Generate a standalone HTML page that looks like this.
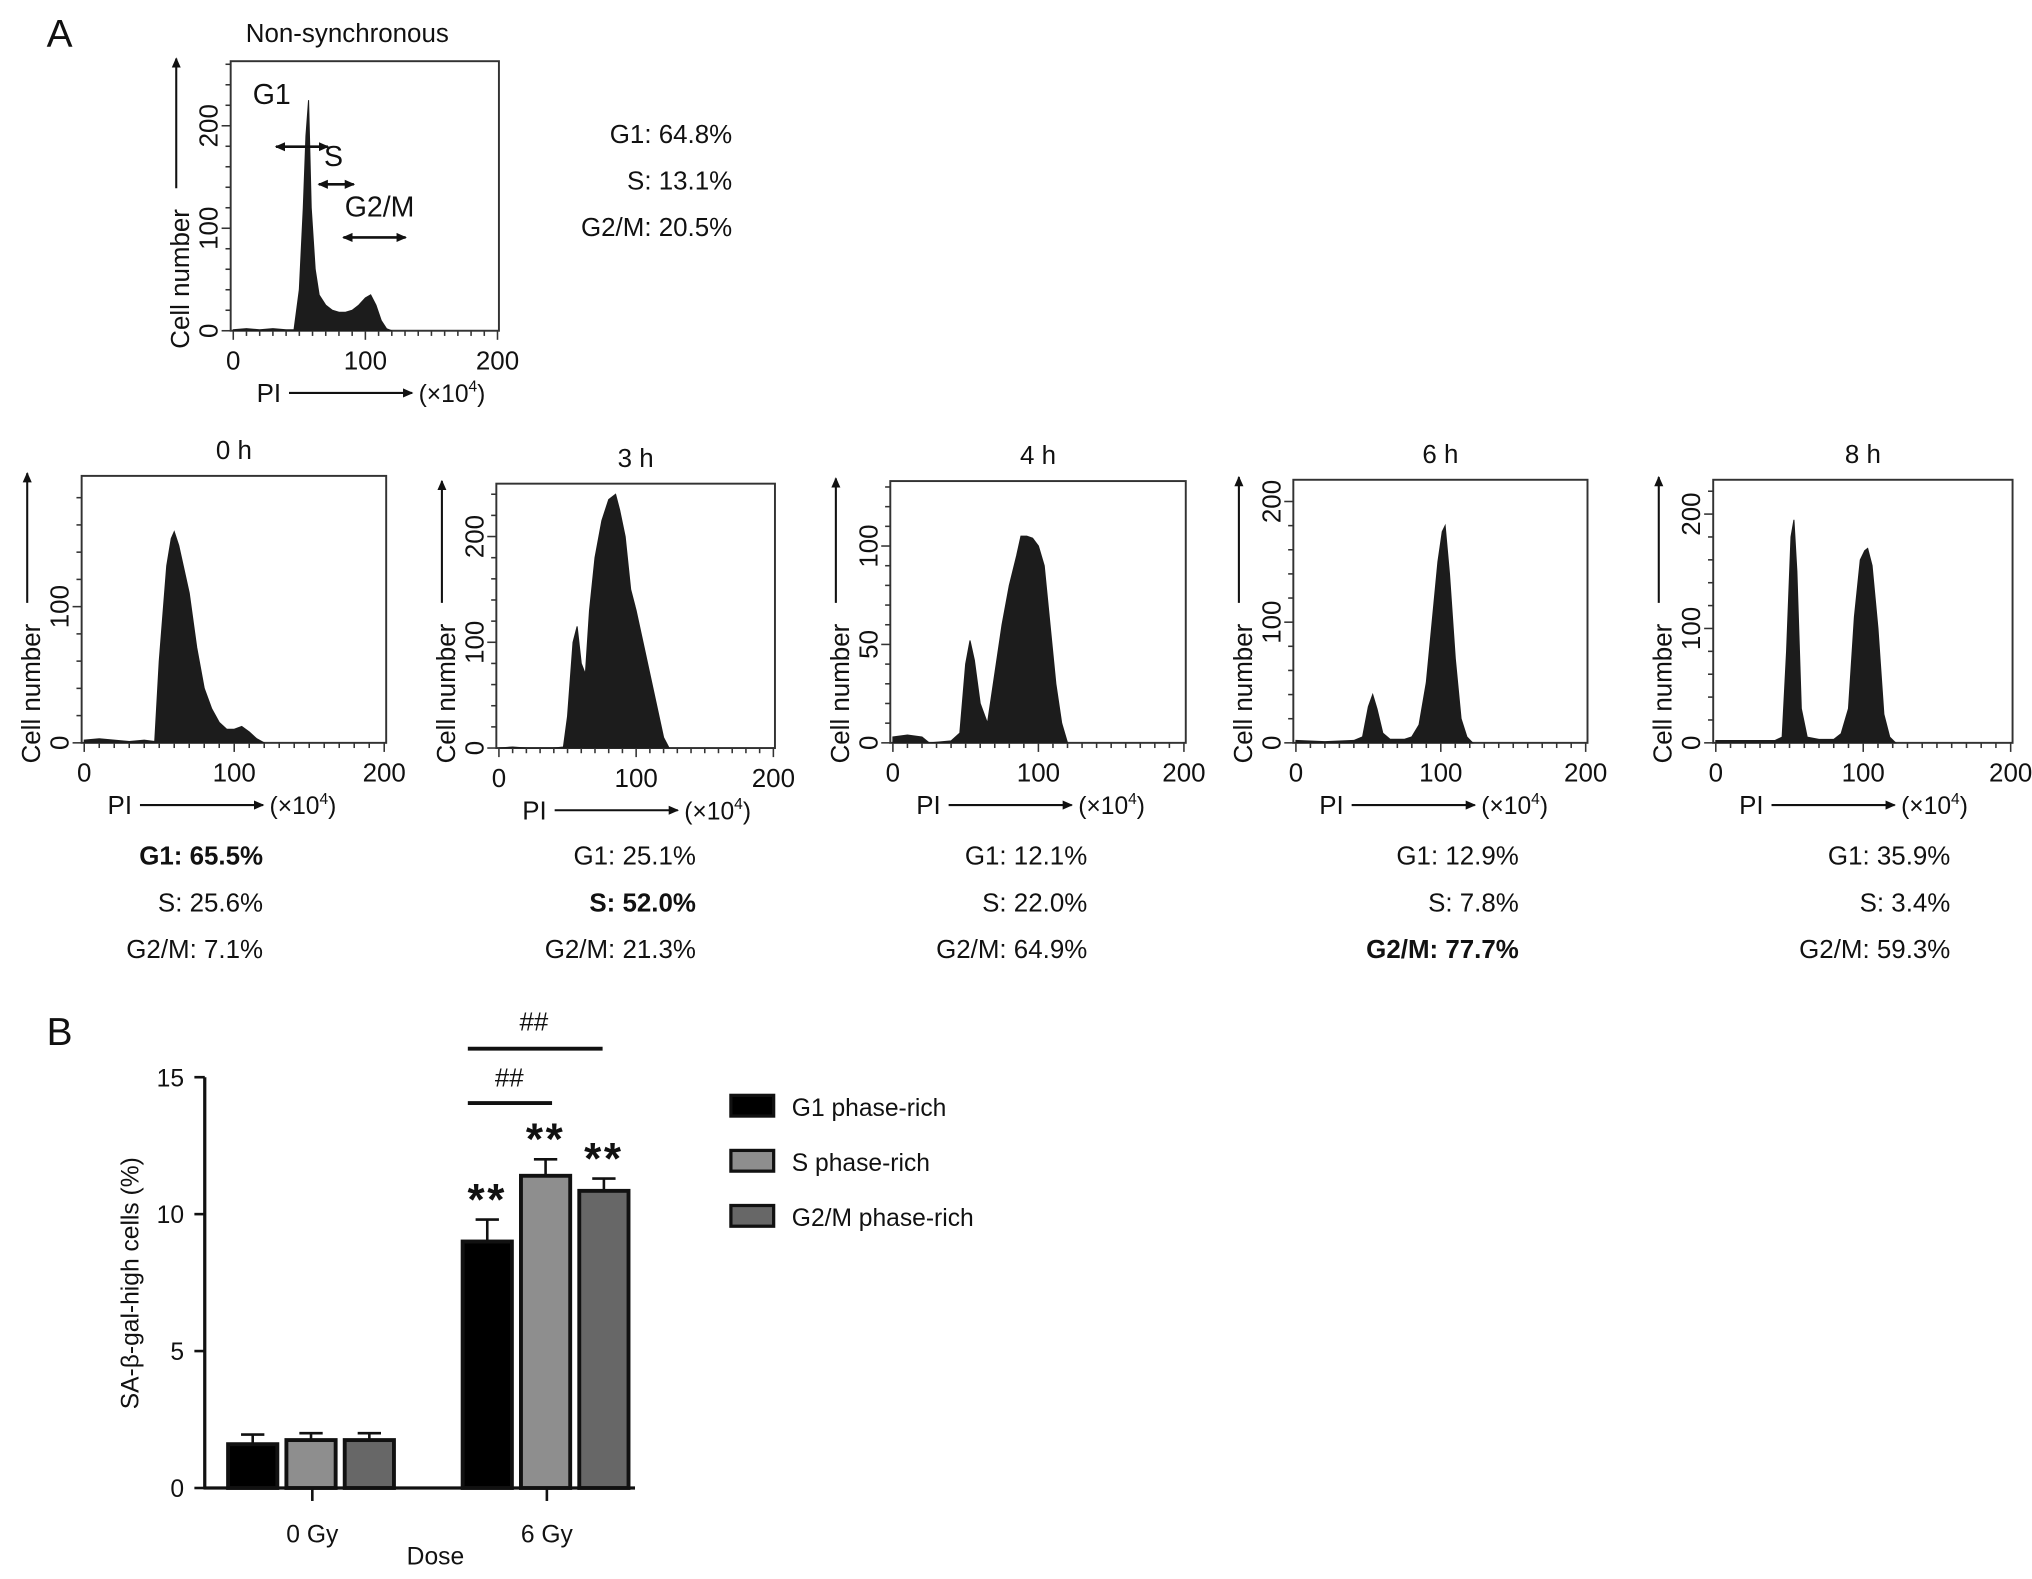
<!DOCTYPE html>
<html><head><meta charset="utf-8"><style>
html,body{margin:0;padding:0;background:#fff}
svg{display:block}
text{font-family:"Liberation Sans",sans-serif;fill:#111}
</style></head><body>
<svg id="fig" width="2032" height="1579" viewBox="0 0 1568 1218" xmlns="http://www.w3.org/2000/svg">
<defs><marker id="ah" markerWidth="8" markerHeight="8" refX="7" refY="4" orient="auto" markerUnits="userSpaceOnUse"><path d="M0,0.5 L8,4 L0,7.5 z" fill="#111"/></marker>
<marker id="ah2" markerWidth="8" markerHeight="8" refX="1" refY="4" orient="auto" markerUnits="userSpaceOnUse"><path d="M8,0.5 L0,4 L8,7.5 z" fill="#111"/></marker></defs>
<text x="36" y="36" font-size="30">A</text>
<text x="36" y="806" font-size="30">B</text>
<g id="hists"></g>
<g id="bars"></g>
</svg>
<script>
// ---------- Panel A histogram data ----------
const nsPI = [0,10,20,30,40,46,50,53,55,57,59,62,65,70,75,80,85,90,95,100,104,108,112,116,120];
const nsCount = [1,2,1,2,1,1,40,120,190,225,120,60,35,25,20,18,18,20,25,32,35,25,10,2,0];
const h0PI = [0,10,20,30,40,47,50,55,58,60,63,66,70,75,80,85,90,95,100,105,110,115,120];
const h0Count = [2,3,2,1,2,1,60,130,150,155,145,130,110,70,40,25,15,10,10,12,8,3,0];
const h3PI = [0,10,20,30,40,47,50,54,57,60,63,66,70,75,80,85,88,92,96,100,105,110,115,120,124];
const h3Count = [0,1,0,0,0,1,30,100,115,80,70,130,180,215,235,240,225,200,150,130,100,70,40,10,0];
const h4PI = [0,10,20,25,40,46,50,53,56,60,65,70,75,80,85,88,92,96,100,104,108,112,116,120];
const h4Count = [3,4,3,0,1,5,40,52,42,20,10,35,60,80,95,105,105,104,100,90,60,30,10,0];
const h6PI = [0,20,40,46,50,53,56,60,65,70,75,80,85,90,94,98,101,103,106,110,114,118,122];
const h6Count = [2,1,2,5,30,40,28,8,3,3,3,5,15,50,100,150,175,180,140,70,20,5,0];
const h8PI = [0,20,40,45,48,51,53,55,58,62,70,80,85,90,94,98,101,103,106,110,114,118,122];
const h8Count = [2,2,2,5,80,180,195,150,30,5,3,3,8,30,110,160,168,170,155,100,25,5,0];
const panelTitles = ["0 h","3 h","4 h","6 h","8 h"];
const ns1 = ["G1: 64.8%","S: 13.1%","G2/M: 20.5%"];
const stat0 = ["G1: 65.5%","S: 25.6%","G2/M: 7.1%"];
const stat3 = ["G1: 25.1%","S: 52.0%","G2/M: 21.3%"];
const stat4 = ["G1: 12.1%","S: 22.0%","G2/M: 64.9%"];
const stat6 = ["G1: 12.9%","S: 7.8%","G2/M: 77.7%"];
const stat8 = ["G1: 35.9%","S: 3.4%","G2/M: 59.3%"];
const xTicks = [0,100,200];
// ---------- Panel B bar data ----------
const doses = ["0 Gy","6 Gy"];
const seriesNames = ["G1 phase-rich","S phase-rich","G2/M phase-rich"];
const g1Vals = [1.6, 9.0];
const sVals = [1.75, 11.4];
const g2mVals = [1.75, 10.85];
const g1Err = [0.35, 0.8];
const sErr = [0.25, 0.6];
const g2mErr = [0.25, 0.45];
const yTicksB = [0,5,10,15];

const NS="http://www.w3.org/2000/svg";
function el(tag, attrs, parent, txt){const e=document.createElementNS(NS,tag);for(const k in attrs)e.setAttribute(k,attrs[k]);if(txt!==undefined)e.textContent=txt;parent.appendChild(e);return e;}
const H=document.getElementById('hists');

function hist(cfg){
  const g=el('g',{},H);
  
  
  const x0=cfg.x0,x1=cfg.x1,y0=cfg.y0,y1=cfg.y1,ymax=cfg.ymax;
  const sx=v=>x0+(v/200)*(x1-x0)*0.985+2;
  const sy=v=>y1-(v/ymax)*(y1-y0);
  const fr=el('rect',{x:x0,y:y0,width:x1-x0,height:y1-y0,fill:'none',stroke:'#333','stroke-width':1.5},g);
  
  
  let d='M'+sx(cfg.pi[0])+','+y1;
  cfg.pi.forEach((p,i)=>{d+=' L'+sx(p)+','+sy(cfg.cnt[i]);});
  d+=' L'+sx(cfg.pi[cfg.pi.length-1])+','+y1+' Z';
  const hp=el('path',{d:d,fill:'#1c1c1c',stroke:'#1c1c1c','stroke-width':0.8},g);
  
  
  for(let v=0;v<=200;v+=10){el('line',{x1:sx(v),x2:sx(v),y1:y1,y2:y1+(v%100?4:7),stroke:'#333','stroke-width':1.2},g);}
  xTicks.forEach(v=>{const t=el('text',{x:sx(v),y:y1+30,'font-size':20,'text-anchor':'middle'},g,String(v));
    });
  for(let v=0;v<=ymax;v+=cfg.minor){el('line',{x1:x0-(v%cfg.major?4:7),x2:x0,y1:sy(v),y2:sy(v),stroke:'#333','stroke-width':1.2},g);}
  for(let v=0;v<=ymax;v+=cfg.major){const t=el('text',{x:0,y:0,'font-size':20,'text-anchor':'middle',transform:'translate('+(x0-10)+','+sy(v)+') rotate(-90)'},g,String(v));
    }
  const yl=el('text',{x:0,y:0,'font-size':20,'text-anchor':'middle',transform:'translate('+(x0-32)+','+cfg.ylabY+') rotate(-90)'},g,'Cell number');
  
  el('line',{x1:x0-42,x2:x0-42,y1:cfg.ylabY-70,y2:y0-2,stroke:'#111','stroke-width':1.6,'marker-end':'url(#ah)'},g);
  const pl=el('text',{x:x0+20,y:y1+55,'font-size':20},g,'PI');
  
  el('line',{x1:x0+45,x2:x0+140,y1:y1+48,y2:y1+48,stroke:'#111','stroke-width':1.6,'marker-end':'url(#ah)'},g);
  const u=el('text',{x:x0+145,y:y1+55,'font-size':19},g,'(×10');
  
  el('tspan',{'font-size':12,dy:-8},u,'4');
  el('tspan',{dy:8},u,')');
  if(cfg.title){const t=el('text',{x:(x0+x1)/2,y:y0-13,'font-size':20,'text-anchor':'middle'},g,cfg.title);
    }
  cfg.stats.forEach((s,i)=>{const t=el('text',{x:cfg.statX,y:cfg.statY+i*36,'font-size':20,'text-anchor':'end','font-weight':cfg.bold===i?'bold':'normal'},g,s);
    });
  return {sx:sx,sy:sy,g:g};
}
const nsPanel=hist({name:'histogram-non-synchronous',x0:178,x1:385,y0:47,y1:255,ymax:263,major:100,minor:20,pi:nsPI,cnt:nsCount,ylabY:215,stats:ns1,statX:565,statY:110,bold:-1});
{const t=el('text',{x:268,y:32,'font-size':20,'text-anchor':'middle'},nsPanel.g,'Non-synchronous');
 
 [['G1',195,80],['S',250,128],['G2/M',266,167]].forEach(a=>{const l=el('text',{x:a[1],y:a[2],'font-size':22},nsPanel.g,a[0]);
   });
 [[213,253,113],[246,273,142],[265,313,183]].forEach(a=>{const l=el('line',{x1:a[0],x2:a[1],y1:a[2],y2:a[2],stroke:'#111','stroke-width':2,'marker-end':'url(#ah)','marker-start':'url(#ah2)'},nsPanel.g);
   });
}
hist({name:'histogram-0h',x0:63,x1:298,y0:367,y1:573,ymax:196,major:100,minor:20,pi:h0PI,cnt:h0Count,ylabY:535,title:panelTitles[0],stats:stat0,statX:203,statY:667,bold:0});
hist({name:'histogram-3h',x0:383,x1:598,y0:373,y1:577,ymax:250,major:100,minor:20,pi:h3PI,cnt:h3Count,ylabY:535,title:panelTitles[1],stats:stat3,statX:537,statY:667,bold:1});
hist({name:'histogram-4h',x0:687,x1:915,y0:371,y1:573,ymax:133,major:50,minor:10,pi:h4PI,cnt:h4Count,ylabY:535,title:panelTitles[2],stats:stat4,statX:839,statY:667,bold:-1});
hist({name:'histogram-6h',x0:998,x1:1225,y0:370,y1:573,ymax:218,major:100,minor:20,pi:h6PI,cnt:h6Count,ylabY:535,title:panelTitles[3],stats:stat6,statX:1172,statY:667,bold:2});
hist({name:'histogram-8h',x0:1322,x1:1553,y0:370,y1:573,ymax:230,major:100,minor:20,pi:h8PI,cnt:h8Count,ylabY:535,title:panelTitles[4],stats:stat8,statX:1505,statY:667,bold:-1});

// ---------- Bar chart ----------
const B=document.getElementById('bars');
const by=v=>1148-v*(1148-831)/15;
const groupX=[176,357]; const barW=38; const gap=45;
const fills=['#000','#8e8e8e','#676767'];
const vals=[g1Vals,sVals,g2mVals]; const errs=[g1Err,sErr,g2mErr];
el('line',{x1:158,x2:158,y1:by(15),y2:by(0),stroke:'#111','stroke-width':2.5},B);
el('line',{x1:157,x2:490,y1:by(0),y2:by(0),stroke:'#111','stroke-width':2.5},B);
yTicksB.forEach(v=>{el('line',{x1:150,x2:158,y1:by(v),y2:by(v),stroke:'#111','stroke-width':2},B);
  const t=el('text',{x:142,y:by(v)+7,'font-size':19,'text-anchor':'end'},B,String(v));
  });
doses.forEach((d,gi)=>{
  const cx=groupX[gi]+gap+barW/2+1;
  el('line',{x1:cx,x2:cx,y1:by(0),y2:by(0)+10,stroke:'#111','stroke-width':2},B);
  const t=el('text',{x:cx,y:1190,'font-size':19,'text-anchor':'middle'},B,d);
  
  vals.forEach((arr,si)=>{
    const x=groupX[gi]+si*gap, v=arr[gi], e=errs[si][gi];
    const cxb=x+barW/2;
    el('line',{x1:cxb,x2:cxb,y1:by(v),y2:by(v+e),stroke:'#111','stroke-width':2},B);
    el('line',{x1:cxb-9,x2:cxb+9,y1:by(v+e),y2:by(v+e),stroke:'#111','stroke-width':2},B);
    const r=el('rect',{x:x,y:by(v),width:barW,height:by(0)-by(v),fill:fills[si],stroke:'#111','stroke-width':3},B);
    
    
    if(gi===1){const s=el('text',{x:cxb,y:by(v+e)-4,'font-size':34,'font-weight':'bold','text-anchor':'middle','letter-spacing':'2'},B,'**');
      }
  });
});
[[361,426,851,393,838],[361,465,809,412,795]].forEach(a=>{
  const l=el('line',{x1:a[0],x2:a[1],y1:a[2],y2:a[2],stroke:'#111','stroke-width':3},B);
  
  const t=el('text',{x:a[3],y:a[4],'font-size':20,'text-anchor':'middle'},B,'##');
  
});
{const t=el('text',{x:0,y:0,'font-size':19,'text-anchor':'middle',transform:'translate(107,990) rotate(-90)'},B,'SA-β-gal-high cells (%)');
 
 const d=el('text',{x:336,y:1207,'font-size':19,'text-anchor':'middle'},B,'Dose');
 }
seriesNames.forEach((n,i)=>{
  const y=845+i*42.5;
  const r=el('rect',{x:564,y:y,width:33,height:16,fill:fills[i],stroke:'#111','stroke-width':2.5},B);
  
  const t=el('text',{x:611,y:y+16,'font-size':19},B,n);
  
});
</script>
</body></html>
